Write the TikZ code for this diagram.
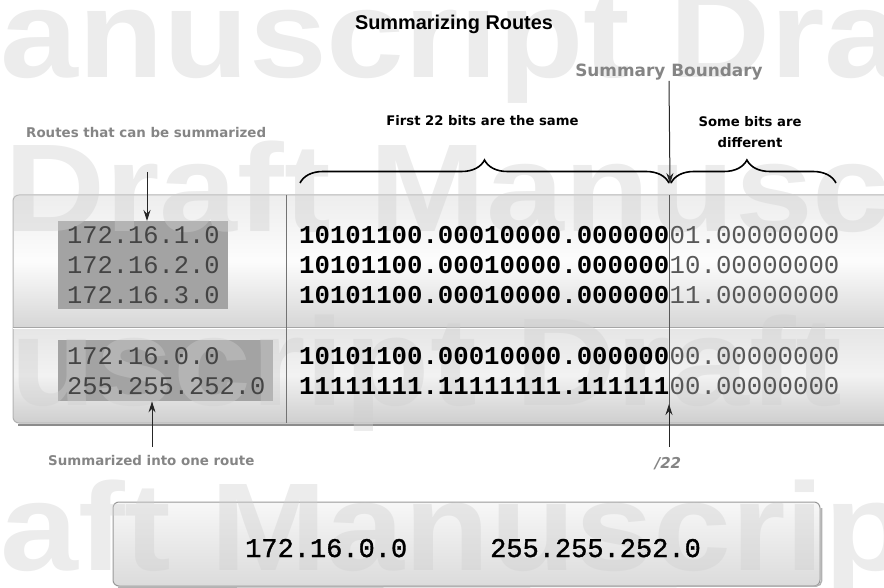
\documentclass[tikz,border=0pt]{standalone}
\usepackage{fontspec}
\usepackage{graphicx}
\setmainfont{Liberation Sans}
\newfontfamily\wmfnt{Liberation Sans}
\newfontfamily\lblfnt{DejaVu Sans}
\newfontfamily\ipfnt{Liberation Mono}
\newfontfamily\sumfnt[FakeBold=1.2]{Liberation Mono}
\usetikzlibrary{arrows.meta,decorations.pathreplacing}
\definecolor{wmgray}{HTML}{CFCFCF}
\definecolor{lblgray}{HTML}{858585}
\definecolor{hlgray}{HTML}{A3A3A3}
\definecolor{ipgray}{HTML}{444444}
\definecolor{bitgray}{HTML}{585858}
\tikzset{
  wm/.style={anchor=base west, inner sep=0, text=wmgray, text opacity=0.4, font=\wmfnt\bfseries\fontsize{125}{125}\selectfont},
  lbl/.style={inner sep=0, text=lblgray, font=\lblfnt\bfseries\fontsize{13.4}{16}\selectfont},
  blk/.style={inner sep=0, text=black, font=\lblfnt\bfseries\fontsize{13.2}{16}\selectfont},
  hl/.style={fill=hlgray, draw=none, inner sep=0, anchor=north west},
  iptxt/.style={anchor=base west, inner sep=0, text=ipgray, font=\ipfnt\fontsize{25.4}{30}\selectfont},
  bitb/.style={anchor=base west, inner sep=0, text=black, font=\ipfnt\bfseries\fontsize{25.7}{30}\selectfont},
  bitr/.style={anchor=base west, inner sep=0, text=bitgray, font=\ipfnt\fontsize{25.7}{30}\selectfont},
  sumtxt/.style={anchor=base west, inner sep=0, text=black, font=\sumfnt\fontsize{27}{30}\selectfont},
  arr/.style={draw=black!85, line width=1pt, -{Stealth[length=11pt,width=7pt]}},
  bracestyle/.style={draw=black, line width=1.6pt, decorate, decoration={brace, amplitude=23pt}},
}
\begin{document}
\begin{tikzpicture}[x=1pt,y=-1pt]
\useasboundingbox (0,0) rectangle (884,588);
\clip (0,0) rectangle (884,588);

% ---- backgrounds ----
% table
\begin{scope}
\clip[rounded corners=6pt] (13,195) rectangle (900,423);
\shade[top color=black!7, bottom color=black!16, middle color=black!1] (13,195) rectangle (900,327);
\shade[top color=black!10, bottom color=black!19, middle color=black!5] (13,327) rectangle (900,423);
\end{scope}
\draw[black!30, line width=1pt, rounded corners=6pt] (13,195) rectangle (900,423);
\draw[black!45, line width=2pt] (18,424.5) -- (900,424.5);
\draw[black!35, line width=1pt] (13,327) -- (900,327);
\draw[white, line width=1pt] (13,328.5) -- (900,328.5);

% highlight boxes
\node[hl, minimum width=170pt, minimum height=88pt] (g1) at (58,221) {};
\node[hl, minimum width=215pt, minimum height=61pt] (g2) at (58,340) {};

% summary box
\shade[rounded corners=6pt, top color=black!3, bottom color=black!14] (113,502) rectangle (820,586);
\draw[black!40, line width=1pt, rounded corners=6pt] (113,502) rectangle (820,586);
\draw[black!30, line width=1.5pt, rounded corners=5pt] (821.5,508) -- (821.5,586) -- (118,587.2);

% ---- watermark ----
\node[wm] (wm1) at (0,78) {\scalebox{1.12}[1]{anuscript Dra}};
\node[wm] (wm2) at (4,232) {\scalebox{1.12}[1]{Draft Manusc}};
\node[wm] (wm3) at (10,405) {\scalebox{1.12}[1]{uscript Draft}};
\node[wm] (wm4) at (0,570) {\scalebox{1.12}[1]{aft Manuscrip}};

% ---- lines ----
\draw[black!55, line width=0.8pt] (286,195) -- (286,423);
\coordinate (btop) at (669,195);
\coordinate (bbot) at (669,423);
\draw[black!65, line width=0.8pt] (btop) -- (bbot);

% ---- texts ----
\node[inner sep=0, anchor=base, font=\bfseries\fontsize{19.9}{22}\selectfont] (title) at (454,30) {Summarizing Routes};

\node[lbl, anchor=base, font=\lblfnt\bfseries\fontsize{16.9}{20}\selectfont] (sb) at (669,77) {Summary Boundary};
\node[blk, anchor=base] (f22) at (482.5,126) {First 22 bits are the same};
\node[blk, anchor=base] (sba) at (750,127) {Some bits are};
\node[blk, anchor=base] (sbd) at (750,148) {different};
\node[lbl, anchor=base west] (rts) at (26,138) {Routes that can be summarized};

\node[iptxt] (ip1) at (67,244) {172.16.1.0};
\node[iptxt] (ip2) at (67,274) {172.16.2.0};
\node[iptxt] (ip3) at (67,304) {172.16.3.0};
\node[iptxt] (ip4) at (67,364) {172.16.0.0};
\node[iptxt] (ip5) at (67,394) {255.255.252.0};

\node[bitb] (b1) at (299,244) {10101100.00010000.000000};
\node[bitr] (r1) at (b1.base east) {01.00000000};
\node[bitb] (b2) at (299,274) {10101100.00010000.000000};
\node[bitr] (r2) at (b2.base east) {10.00000000};
\node[bitb] (b3) at (299,304) {10101100.00010000.000000};
\node[bitr] (r3) at (b3.base east) {11.00000000};
\node[bitb] (b4) at (299,364) {10101100.00010000.000000};
\node[bitr] (r4) at (b4.base east) {00.00000000};
\node[bitb] (b5) at (299,394) {11111111.11111111.111111};
\node[bitr] (r5) at (b5.base east) {00.00000000};

% braces
\coordinate (br1a) at (300,183);
\coordinate (br1b) at (669,183);
\coordinate (br2a) at (671,183);
\coordinate (br2b) at (836,183);
\draw[bracestyle] (br1a) -- (br1b);
\draw[bracestyle, decoration={brace, amplitude=23pt, aspect=0.46}] (br2a) -- (br2b);

% arrows
\coordinate (sbtip) at (670,184);
\draw[arr] (sb.south) -- (sbtip);
\coordinate (a1s) at (147,172);
\draw[arr] (a1s) -- (a1s |- g1.north);

\node[lbl, anchor=base west] (s1) at (48,465) {Summarized into one route};
\node[lbl, anchor=base, font=\lblfnt\bfseries\itshape\fontsize{15}{18}\selectfont] (n22) at (668,468) {/22};
\coordinate (a2s) at (152,447);
\draw[arr] (a2s) -- (a2s |- g2.south);
\coordinate (a3s) at (669,447);
\coordinate (a3e) at (669,404);
\draw[arr] (a3s) -- (a3e);

\node[sumtxt] (sum1) at (245,557) {172.16.0.0};
\node[sumtxt] (sum2) at (490,557) {255.255.252.0};
\end{tikzpicture}
\end{document}
